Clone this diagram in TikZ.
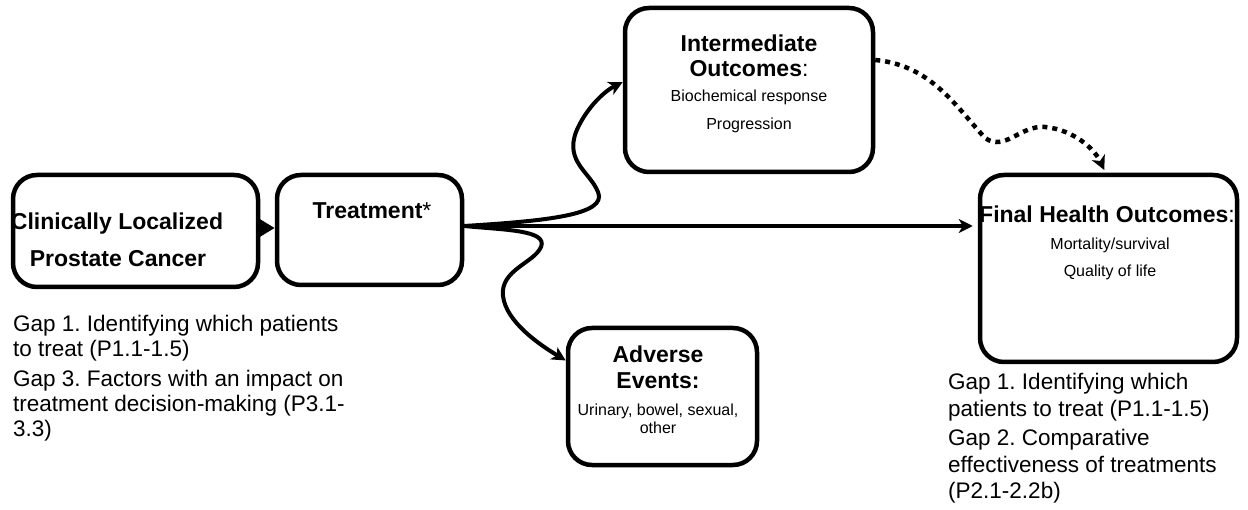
\documentclass[tikz,border=0pt]{standalone}
\usepackage{fontspec}
\setmainfont{Liberation Sans}
\usetikzlibrary{arrows.meta}
\frenchspacing
\begin{document}
\begin{tikzpicture}[x=1pt,y=-1pt,
  box/.style={draw, line width=4.5pt, rounded corners=24pt, inner sep=0pt},
  ttl/.style={font=\fontsize{23}{26}\selectfont\bfseries, inner sep=0pt, align=center},
  sub/.style={font=\fontsize{16}{18}\selectfont, inner sep=0pt, align=center},
  gaptxt/.style={font=\fontsize{22.5}{25}\selectfont, inner sep=0pt, align=left, anchor=north west},
  conn/.style={line width=4pt, -{Stealth[length=14pt,width=14pt,inset=4pt]}},
  dotconn/.style={line width=4.5pt, dash pattern=on 5pt off 5pt, -{Stealth[length=14pt,width=14pt,inset=4pt]}},
]
\useasboundingbox (0,0) rectangle (1248,510);

% boxes
\node[box, minimum width=245pt, minimum height=112pt] (A) at (135.5,231) {};
\node[box, minimum width=185pt, minimum height=110pt] (B) at (369.5,230) {};
\node[box, minimum width=248pt, minimum height=164pt] (I) at (749,90) {};
\node[box, minimum width=257pt, minimum height=187pt] (F) at (1108.5,268.5) {};
\node[box, minimum width=189pt, minimum height=137pt] (E) at (662.5,396.5) {};

% box texts
\node[ttl] (tA1) at (117,224) {Clinically Localized};
\node[ttl] (tA2) at (118,259) {Prostate Cancer};
\node[ttl] (tB) at (372,211) {Treatment\textmd{*}};
\node[ttl] (tI1) at (749,43) {Intermediate};
\node[ttl] (tI2) at (749,69) {Outcomes\textmd{:}};
\node[sub] (tI3) at (749,97) {Biochemical response};
\node[sub] (tI4) at (749,125) {Progression};
\node[ttl] (tF1) at (1107,214) {Final Health Outcomes\textmd{:}};
\node[sub] (tF2) at (1110,245) {Mortality/survival};
\node[sub] (tF3) at (1110,272) {Quality of life};
\node[ttl] (tE1) at (658,354) {Adverse};
\node[ttl] (tE2) at (658,381) {Events:};
\node[sub] (tE3) at (658,419) {Urinary, bowel, sexual,\\other};

% gap texts
\node[gaptxt] (g1) at (13,315) {Gap 1. Identifying which patients\\to treat (P1.1-1.5)\\[5pt]Gap 3. Factors with an impact on\\treatment decision-making (P3.1-\\3.3)};
\node[gaptxt, font=\fontsize{22.5}{26.5}\selectfont] (g2) at (948,373) {Gap 1. Identifying which\\patients to treat (P1.1-1.5)\\[3pt]Gap 2. Comparative\\effectiveness of treatments\\(P2.1-2.2b)};

% connectors
\draw[line width=4pt, -{Triangle[length=16pt,width=18pt]}] ([yshift=3pt]A.east) -- ([yshift=3pt]A.east -| B.west);
\coordinate (c0) at ([yshift=4pt]B.east);
\draw[conn, shorten >=5pt] (c0) -- (c0 -| F.west);
\draw[conn] (c0) .. controls (545,221) and (608,215) .. (598,192)
  .. controls (590,172) and (565,162) .. (576,132)
  .. controls (585,110) and (603,92) .. ([yshift=8pt]I.west);
\draw[conn] (c0) .. controls (505,230) and (548,230) .. (541,247)
  .. controls (534,263) and (500,270) .. (503,296)
  .. controls (506,322) and (540,345) .. ([yshift=36pt]E.west);
\draw[dotconn, shorten >=3pt] ([yshift=30pt]I.east) .. controls (930,65) and (955,105) .. (985,138)
  .. controls (1005,152) and (1020,125) .. (1045,127)
  .. controls (1075,130) and (1095,150) .. ([xshift=-3pt]F.north);
\end{tikzpicture}
\end{document}
